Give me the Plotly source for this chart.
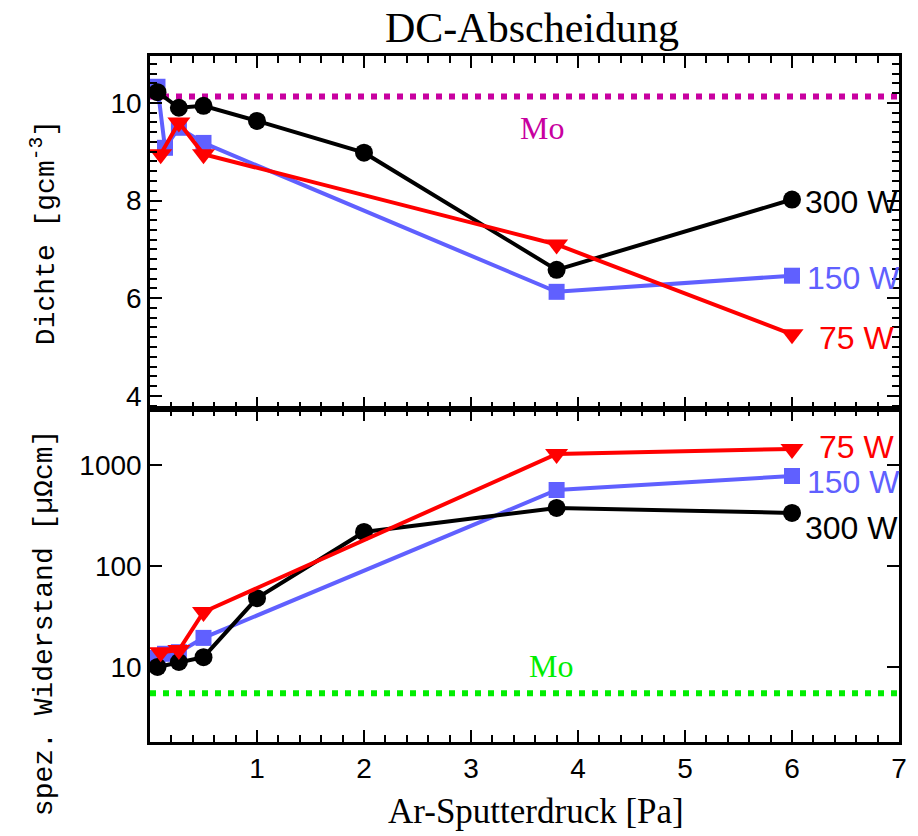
import math
import plotly.graph_objects as go
from plotly.subplots import make_subplots

# Ar sputter pressure [Pa] for each power series
x_300 = [0.07, 0.27, 0.5, 1.0, 2.0, 3.8, 6.0]
x_150 = [0.07, 0.14, 0.27, 0.5, 3.8, 6.0]
x_75 = [0.1, 0.27, 0.5, 3.8, 6.0]

# Density [g cm^-3]
dichte_300 = [10.22, 9.90, 9.94, 9.63, 8.98, 6.58, 8.02]
dichte_150 = [10.33, 9.08, 9.49, 9.18, 6.13, 6.46]
dichte_75 = [8.95, 9.60, 8.95, 7.10, 5.26]

# Resistivity [µΩcm]
rho_300 = [10.0, 11.2, 12.5, 48.0, 217.0, 375.0, 335.0]
rho_150 = [12.3, 13.5, 14.0, 19.4, 565.0, 777.0]
rho_75 = [14.0, 14.7, 35.0, 1285.0, 1440.0]

# Bulk molybdenum reference values
mo_dichte = 10.13
mo_rho = 5.5

series = [
    ("150 W", x_150, dichte_150, rho_150, "#6060FF", "square", 16),
    ("300 W", x_300, dichte_300, rho_300, "#000000", "circle", 18),
    ("75 W", x_75, dichte_75, rho_75, "#FF0000", "triangle-down", 20),
]

# Label positions for series names (x, density, resistivity)
label_x = {"300 W": 6.1, "150 W": 6.12, "75 W": 6.23}
label_dichte = {"300 W": 7.98, "150 W": 6.42, "75 W": 5.19}
label_rho = {"300 W": 238.0, "150 W": 679.0, "75 W": 1507.0}

x_range = [0.0, 7.0]
x_ticks = [1, 2, 3, 4, 5, 6, 7]

W, H = 918, 836
ml, mr, mt, mb = 150, 11, 56, 94
pw, ph = W - ml - mr, H - mt - mb
split = (742 - 409) / ph


def px_to_paper(px, py):
    return (px - ml) / pw, (H - mb - py) / ph


fig = make_subplots(rows=2, cols=1, shared_xaxes=True, vertical_spacing=0.0)

# Mo reference lines
fig.add_trace(go.Scatter(x=x_range, y=[mo_dichte, mo_dichte], mode="lines",
                         line=dict(color="#C800A0", width=6, dash="6px,7px"),
                         showlegend=False, hoverinfo="skip"), row=1, col=1)
fig.add_trace(go.Scatter(x=x_range, y=[mo_rho, mo_rho], mode="lines",
                         line=dict(color="#00EE00", width=6, dash="6px,7px"),
                         showlegend=False, hoverinfo="skip"), row=2, col=1)

for name, xs, d, r, col, sym, ms in series:
    fig.add_trace(go.Scatter(x=xs, y=d, mode="lines+markers", name=name,
                             line=dict(color=col, width=4),
                             marker=dict(symbol=sym, size=ms, color=col, line=dict(width=0)),
                             showlegend=False), row=1, col=1)
    fig.add_trace(go.Scatter(x=xs, y=r, mode="lines+markers", name=name,
                             line=dict(color=col, width=4),
                             marker=dict(symbol=sym, size=ms, color=col, line=dict(width=0)),
                             showlegend=False), row=2, col=1)
    fig.add_annotation(x=label_x[name], y=label_dichte[name], xref="x", yref="y",
                       text=name, showarrow=False, xanchor="left", yanchor="middle",
                       font=dict(family="Liberation Sans", size=32, color=col))
    fig.add_annotation(x=label_x[name], y=math.log10(label_rho[name]),
                       xref="x2", yref="y2",
                       text=name, showarrow=False, xanchor="left", yanchor="middle",
                       font=dict(family="Liberation Sans", size=32, color=col))

fig.add_annotation(x=3.66, y=9.49, xref="x", yref="y", text="Mo", showarrow=False,
                   font=dict(family="Liberation Serif", size=32, color="#C800A0"))
fig.add_annotation(x=3.75, y=1.01, xref="x2", yref="y2", text="Mo", showarrow=False,
                   font=dict(family="Liberation Serif", size=32, color="#00EE00"))

# Axis titles
ax, ay = px_to_paper(43, 233)
fig.add_annotation(x=ax, y=ay, xref="paper", yref="paper", xanchor="center", yanchor="middle",
                   text="Dichte [gcm<sup>-3</sup>]", textangle=-90, showarrow=False,
                   font=dict(family="Liberation Mono", size=28, color="black"))
bx, by = px_to_paper(43, 623)
fig.add_annotation(x=bx, y=by, xref="paper", yref="paper", xanchor="center", yanchor="middle",
                   text="spez. Widerstand [µΩcm]", textangle=-90, showarrow=False,
                   font=dict(family="Liberation Mono", size=28, color="black"))
cx, cy = px_to_paper(540, 812)
fig.add_annotation(x=cx, y=cy, xref="paper", yref="paper", xanchor="center", yanchor="middle",
                   text="Ar-Sputterdruck [Pa]", showarrow=False,
                   font=dict(family="Liberation Serif", size=35, color="black"))

axis_common = dict(showline=True, linecolor="black", linewidth=2.5, mirror="allticks",
                   ticks="inside", tickcolor="black", tickwidth=2, showgrid=False,
                   zeroline=False, tickfont=dict(family="Liberation Sans", size=28, color="black"))

fig.update_xaxes(range=x_range, tickvals=x_ticks, ticklen=12,
                 minor=dict(dtick=0.2, ticks="inside", ticklen=7, tickwidth=2, tickcolor="black", showgrid=False),
                 **axis_common)
fig.update_xaxes(showticklabels=False, row=1, col=1)

fig.update_yaxes(range=[3.73, 10.96], tickvals=[4, 6, 8, 10], ticklen=12,
                 minor=dict(dtick=0.2, ticks="inside", ticklen=7, tickwidth=2, tickcolor="black", showgrid=False),
                 domain=[split, 1.0], row=1, col=1, **axis_common)
fig.update_yaxes(type="log", range=[0.257, 3.554], tickvals=[10, 100, 1000],
                 ticktext=["10", "100", "1000"], ticklen=12,
                 domain=[0.0, split], row=2, col=1, **axis_common)

fig.update_layout(
    width=W, height=H,
    margin=dict(l=ml, r=mr, t=mt, b=mb),
    paper_bgcolor="white", plot_bgcolor="white",
    title=dict(text="DC-Abscheidung", x=532 / W, xanchor="center", y=1 - 27 / H, yanchor="middle",
               font=dict(family="Liberation Serif", size=42, color="black")),
    showlegend=False,
)

fig.write_html("out.html")
